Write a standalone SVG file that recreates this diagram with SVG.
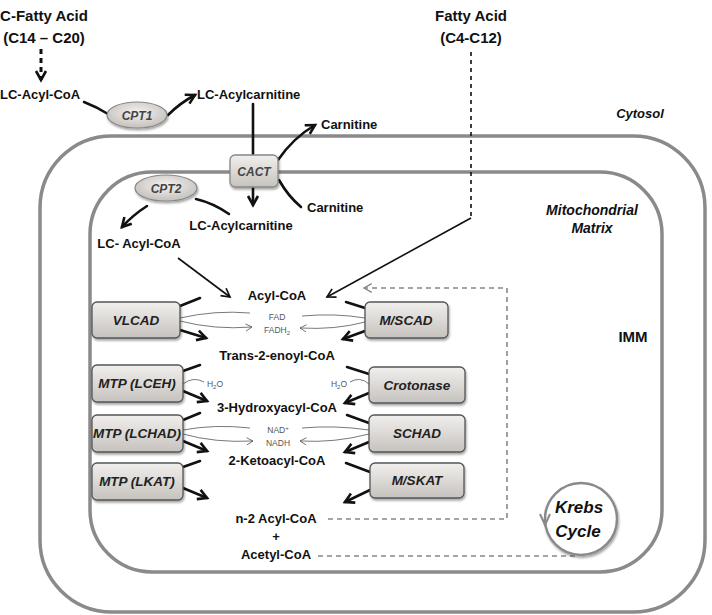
<svg xmlns="http://www.w3.org/2000/svg" width="712" height="615" viewBox="0 0 712 615">
<defs>
<style>
.t{font-family:"Liberation Sans",Arial,sans-serif;font-weight:bold;fill:#111;font-size:13px;text-anchor:middle}
.h{font-size:15px}
.it{font-style:italic}
.enz{font-family:"Liberation Sans",Arial,sans-serif;font-weight:bold;font-style:italic;fill:#222;font-size:13.5px;text-anchor:middle}
.sm{font-family:"Liberation Sans",Arial,sans-serif;fill:#555;font-size:8.5px;text-anchor:middle}
.box{fill:url(#gBox);stroke:#555;stroke-width:1.3;filter:url(#sh)}
.mem{fill:none;stroke:#8a8a8a;stroke-width:3.5}
.thick{fill:none;stroke:#111;stroke-width:2.6;stroke-linecap:round}
.thin{fill:none;stroke:#111;stroke-width:1.6}
.fine{fill:none;stroke:#555;stroke-width:0.8}
.dash{fill:none;stroke:#888;stroke-width:1.6;stroke-dasharray:5,4}
</style>
<linearGradient id="gBox" x1="0" y1="0" x2="0" y2="1">
<stop offset="0" stop-color="#f1efed"/><stop offset="1" stop-color="#c6c2be"/>
</linearGradient>
<radialGradient id="gEl" cx="0.5" cy="0.4" r="0.6">
<stop offset="0" stop-color="#f4f2f0"/><stop offset="1" stop-color="#c4c0bc"/>
</radialGradient>
<filter id="sh" x="-20%" y="-20%" width="140%" height="150%">
<feDropShadow dx="1" dy="2" stdDeviation="1.2" flood-color="#000" flood-opacity="0.35"/>
</filter>
<marker id="arr" markerUnits="userSpaceOnUse" markerWidth="14" markerHeight="14" viewBox="-2 -2 14 14" refX="9" refY="5" orient="auto">
<path d="M0,0 L9,5 L0,10" fill="none" stroke="#111" stroke-width="2.6"/>
</marker>
<marker id="arrT" markerUnits="userSpaceOnUse" markerWidth="13" markerHeight="13" viewBox="-2 -2 14 14" refX="9" refY="5" orient="auto">
<path d="M0,0 L9,5 L0,10" fill="none" stroke="#111" stroke-width="1.8"/>
</marker>
<marker id="arrF" markerUnits="userSpaceOnUse" markerWidth="9" markerHeight="9" viewBox="-1 -1 10 10" refX="7" refY="4" orient="auto">
<path d="M0,0 L7,4 L0,8" fill="none" stroke="#555" stroke-width="0.9"/>
</marker>
<marker id="arrG" markerUnits="userSpaceOnUse" markerWidth="12" markerHeight="12" viewBox="-2 -2 14 14" refX="9" refY="5" orient="auto">
<path d="M0,0 L9,5 L0,10" fill="none" stroke="#888" stroke-width="1.6"/>
</marker>
</defs>
<rect width="712" height="615" fill="#fff"/>

<g id="membranes">
<rect class="mem" x="40" y="136" width="665" height="476" rx="72"/>
<rect class="mem" x="90" y="172" width="572" height="400" rx="62"/>
</g>

<g id="labels">
<text class="t h" x="44" y="21">C-Fatty Acid</text>
<text class="t h" x="44" y="43">(C14 – C20)</text>
<text class="t h" x="471" y="21">Fatty Acid</text>
<text class="t h" x="471" y="43">(C4-C12)</text>
<text class="t it" x="640" y="118">Cytosol</text>
<text class="t it" x="592" y="215" style="font-size:14px">Mitochondrial</text>
<text class="t it" x="592" y="233" style="font-size:14px">Matrix</text>
<text class="t h" x="633" y="342">IMM</text>
<text class="t" x="0" y="99" style="text-anchor:start">LC-Acyl-CoA</text>
<text class="t" x="197" y="99" style="text-anchor:start">LC-Acylcarnitine</text>
<text class="t" x="321" y="129" style="text-anchor:start">Carnitine</text>
<text class="t" x="307" y="212" style="text-anchor:start">Carnitine</text>
<text class="t" x="241" y="230">LC-Acylcarnitine</text>
<text class="t" x="139" y="248">LC- Acyl-CoA</text>
<text class="t" x="277" y="300">Acyl-CoA</text>
<text class="t" x="277" y="360">Trans-2-enoyl-CoA</text>
<text class="t" x="277" y="412">3-Hydroxyacyl-CoA</text>
<text class="t" x="277" y="465">2-Ketoacyl-CoA</text>
<text class="t" x="276" y="523">n-2 Acyl-CoA</text>
<text class="t" x="276" y="541">+</text>
<text class="t" x="276" y="559">Acetyl-CoA</text>
<text class="sm" x="277" y="320">FAD</text>
<text class="sm" x="277" y="333">FADH<tspan font-size="6" dy="2">2</tspan></text>
<text class="sm" x="278" y="433">NAD<tspan font-size="6" dy="-3">+</tspan></text>
<text class="sm" x="278" y="446">NADH</text>
<text class="sm" x="215" y="387">H<tspan font-size="6" dy="2">2</tspan><tspan dy="-2">O</tspan></text>
<text class="sm" x="339" y="387">H<tspan font-size="6" dy="2">2</tspan><tspan dy="-2">O</tspan></text>
</g>

<g id="connectors">
<path d="M41,49 L41,80" fill="none" stroke="#111" stroke-width="3" stroke-dasharray="5,4" marker-end="url(#arr)"/>
<path class="thick" d="M84,102 Q97,107 108,114"/>
<path class="thick" d="M168,115 Q180,103 195,95" marker-end="url(#arr)"/>
<path class="thick" d="M253,104 L253,155"/>
<path class="thick" d="M253,187 L253,205" marker-end="url(#arr)"/>
<path class="thick" d="M278,160 Q293,138 315,125" marker-end="url(#arr)"/>
<path class="thick" d="M279,180 Q288,196 301,207"/>
<path class="thick" d="M229,214 Q213,203 196,199"/>
<path class="thick" d="M147,206 Q133,215 122,227" marker-end="url(#arr)"/>
<path class="thin" d="M178,258 L230,297" marker-end="url(#arrT)"/>
<path d="M471,52 L471,217" fill="none" stroke="#111" stroke-width="1.6" stroke-dasharray="4,4"/>
<path class="thin" d="M471,218 L327,297" marker-end="url(#arrT)"/>

<path class="thick" d="M180,306 L200,298"/>
<path class="thick" d="M180,330 L206,338" marker-end="url(#arr)"/>
<path class="thick" d="M183,371 L200,365"/>
<path class="thick" d="M183,391 L207,401" marker-end="url(#arr)"/>
<path class="thick" d="M183,420 L200,413"/>
<path class="thick" d="M183,441 L207,451" marker-end="url(#arr)"/>
<path class="thick" d="M183,467 L200,461"/>
<path class="thick" d="M183,488 L207,498" marker-end="url(#arr)"/>

<path class="thick" d="M346,302 L365,308"/>
<path class="thick" d="M365,331 L343,339" marker-end="url(#arr)"/>
<path class="thick" d="M347,367 L369,374"/>
<path class="thick" d="M369,393 L345,403" marker-end="url(#arr)"/>
<path class="thick" d="M347,415 L369,423"/>
<path class="thick" d="M369,442 L345,452" marker-end="url(#arr)"/>
<path class="thick" d="M346,463 L370,472"/>
<path class="thick" d="M370,490 L345,502" marker-end="url(#arr)"/>

<path class="fine" d="M180,318 Q215,310 250,313"/>
<path class="fine" d="M180,321 Q215,330 252,327" marker-end="url(#arrF)"/>
<path class="fine" d="M365,318 Q335,313 302,316"/>
<path class="fine" d="M365,322 Q335,330 300,328" marker-end="url(#arrF)"/>
<path class="fine" d="M183,430 Q215,424 250,428"/>
<path class="fine" d="M183,434 Q215,443 253,441" marker-end="url(#arrF)"/>
<path class="fine" d="M369,430 Q335,425 302,428"/>
<path class="fine" d="M369,434 Q335,443 300,441" marker-end="url(#arrF)"/>
<path class="fine" d="M183,384 Q193,376 204,382"/>
<path class="fine" d="M350,382 Q360,376 369,384"/>

<path class="dash" d="M328,519 L507,519 L507,288 L364,288" marker-end="url(#arrG)"/>
<path class="dash" d="M318,556 L575,556"/>
</g>

<g id="CPT1"><ellipse cx="137" cy="115" rx="30" ry="13" fill="url(#gEl)" stroke="#888" stroke-width="1.2" filter="url(#sh)"/><text class="enz" x="137" y="119.5" style="font-size:12px;fill:#444">CPT1</text></g>
<g id="CACT"><rect class="box" x="230" y="155" width="48" height="32" rx="5" style="stroke:#888"/><text class="enz" x="254" y="176" style="font-size:12px;fill:#444">CACT</text></g>
<g id="CPT2"><ellipse cx="166" cy="188" rx="31" ry="13" fill="url(#gEl)" stroke="#888" stroke-width="1.2" filter="url(#sh)"/><text class="enz" x="166" y="192.5" style="font-size:12px;fill:#444">CPT2</text></g>

<g id="VLCAD"><rect class="box" x="92" y="302" width="88" height="36" rx="5"/><text class="enz" x="136" y="325">VLCAD</text></g>
<g id="MTP-LCEH"><rect class="box" x="92" y="365" width="91" height="37" rx="5"/><text class="enz" x="137" y="388">MTP (LCEH)</text></g>
<g id="MTP-LCHAD"><rect class="box" x="92" y="415" width="91" height="37" rx="5"/><text class="enz" x="137" y="438">MTP (LCHAD)</text></g>
<g id="MTP-LKAT"><rect class="box" x="92" y="463" width="91" height="37" rx="5"/><text class="enz" x="137" y="486">MTP (LKAT)</text></g>

<g id="MSCAD"><rect class="box" x="365" y="302" width="83" height="36" rx="5"/><text class="enz" x="406" y="325">M/SCAD</text></g>
<g id="Crotonase"><rect class="box" x="369" y="367" width="96" height="36" rx="5"/><text class="enz" x="417" y="390">Crotonase</text></g>
<g id="SCHAD"><rect class="box" x="369" y="415" width="96" height="37" rx="5"/><text class="enz" x="417" y="438">SCHAD</text></g>
<g id="MSKAT"><rect class="box" x="370" y="463" width="94" height="35" rx="5"/><text class="enz" x="417" y="485">M/SKAT</text></g>

<g id="Krebs">
<circle cx="581" cy="519" r="36" fill="#fff" stroke="#8a8a8a" stroke-width="2.5" filter="url(#sh)"/>
<path d="M540,514 L545,525 L550,514" fill="none" stroke="#8a8a8a" stroke-width="2"/>
<text class="enz" x="579" y="513" style="font-size:17px;fill:#111">Krebs</text>
<text class="enz" x="578" y="537" style="font-size:17px;fill:#111">Cycle</text>
</g>
</svg>
